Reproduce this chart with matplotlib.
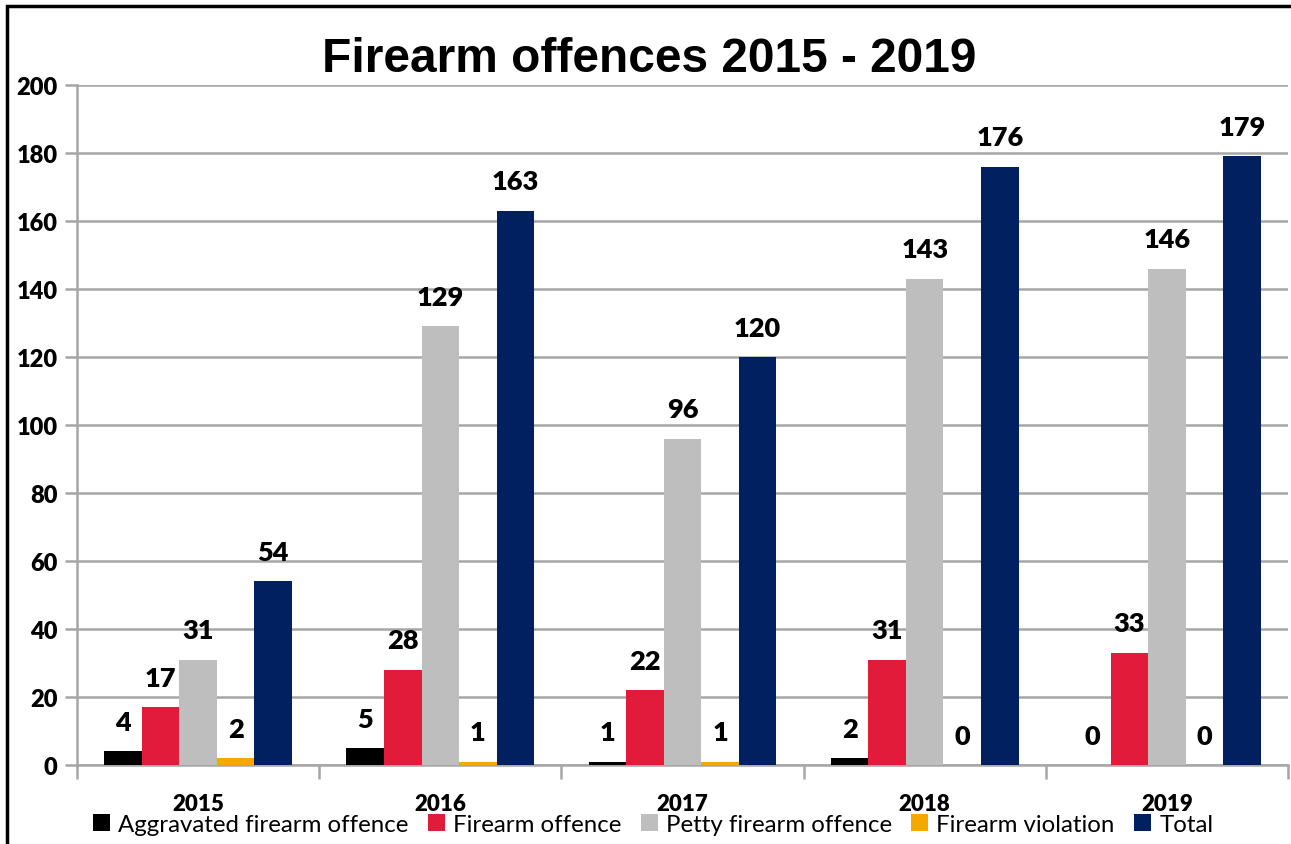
import matplotlib
matplotlib.use("Agg")
import matplotlib.pyplot as plt
import numpy as np
from matplotlib.patches import Rectangle, Patch

years = ["2015", "2016", "2017", "2018", "2019"]
series_names = ["Aggravated firearm offence", "Firearm offence", "Petty firearm offence",
                "Firearm violation", "Total"]
aggravated = [4, 5, 1, 2, 0]
firearm = [17, 28, 22, 31, 33]
petty = [31, 129, 96, 143, 146]
violation = [2, 1, 1, 0, 0]
total = [54, 163, 120, 176, 179]
colors = ["#000000", "#E31B3A", "#BEBEBE", "#F5A800", "#002060"]
yticks = [0, 20, 40, 60, 80, 100, 120, 140, 160, 180, 200]

plt.rcParams['font.family'] = ['Lato', 'DejaVu Sans']

fig = plt.figure(figsize=(12.91, 8.45), dpi=100)
ax = fig.add_axes([77/1291, 79/845, (1288-77)/1291, (766-86)/845])

x = np.arange(len(years))
w = 0.155
data = [aggravated, firearm, petty, violation, total]
for i, (vals, c) in enumerate(zip(data, colors)):
    pos = x + (i - 2) * w
    ax.bar(pos, vals, width=w, color=c, zorder=3, label=series_names[i])
    for p, v in zip(pos, vals):
        ax.annotate(str(v), (p, v), xytext=(0, 12.5), textcoords="offset points",
                    ha="center", va="bottom", fontsize=19.5, fontweight="heavy", color="black")

ax.set_xlim(-0.5, 4.5)
ax.set_ylim(0, 200)
ax.set_yticks(yticks)
ax.set_yticklabels([str(t) for t in yticks], fontsize=17, fontweight="heavy")
ax.yaxis.grid(True, color="#A6A6A6", linewidth=1.8, zorder=0)
ax.tick_params(axis="y", length=9, width=1.8, color="#A6A6A6", pad=5)

ax.set_xticks(x)
ax.set_xticklabels(years, fontsize=16, fontweight="heavy")
ax.set_xticks(np.arange(-0.5, 5, 1), minor=True)
ax.tick_params(axis="x", which="major", length=0, pad=20)
ax.tick_params(axis="x", which="minor", length=10, width=1.8, color="#A6A6A6")

for s in ["top", "right"]:
    ax.spines[s].set_visible(False)
for s in ["left", "bottom"]:
    ax.spines[s].set_color("#A6A6A6")
    ax.spines[s].set_linewidth(1.8)

fig.text(0.503, 0.929, "Firearm offences 2015 - 2019", ha="center", va="center",
         fontsize=34.5, fontweight="bold", family="Liberation Sans")

handles = [Patch(facecolor=c, edgecolor="none") for c in colors]
fig.legend(handles, series_names, loc="center", bbox_to_anchor=(0.506, 0.023), ncol=5,
           frameon=False, fontsize=17.3, handlelength=0.7, handleheight=0.7,
           handletextpad=0.35, columnspacing=0.8, borderpad=0)

fig.patches.append(Rectangle((7/1291, -0.2), 1.2, 1 - 7/845 + 0.2, transform=fig.transFigure,
                             fill=False, edgecolor="black", linewidth=2.5, zorder=10))

fig.savefig("out.png", dpi=100)
